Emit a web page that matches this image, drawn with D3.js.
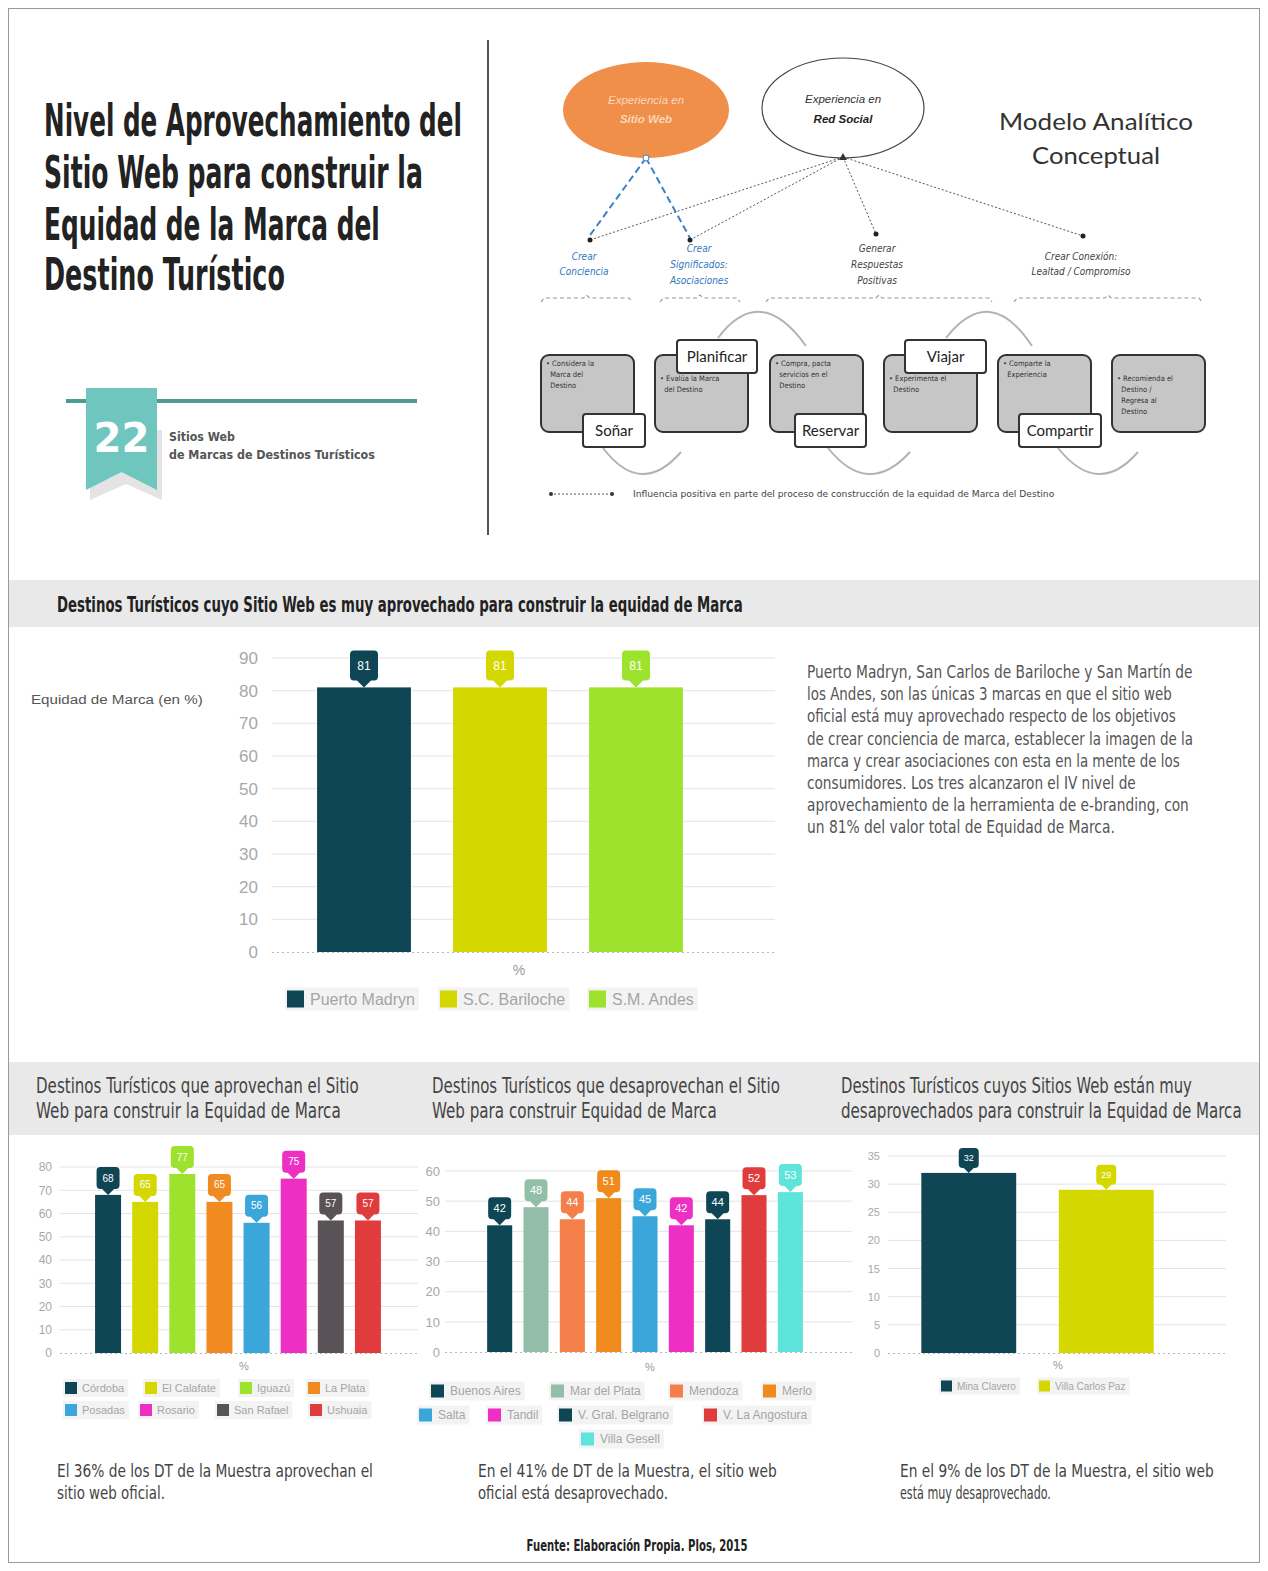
<!DOCTYPE html>
<html><head><meta charset="utf-8">
<script src="https://cdn.jsdelivr.net/npm/d3@7"></script>
<style>body{margin:0;background:#fff}svg{display:block}</style>
</head><body>
<script>
// ---------------- DATA ----------------
const mainCategories = ["Puerto Madryn", "S.C. Bariloche", "S.M. Andes"];
const mainValues = [81, 81, 81];
const mainTicks = [0, 10, 20, 30, 40, 50, 60, 70, 80, 90];

const aprovCategories = ["Córdoba", "El Calafate", "Iguazú", "La Plata", "Posadas", "Rosario", "San Rafael", "Ushuaia"];
const aprovValues = [68, 65, 77, 65, 56, 75, 57, 57];
const aprovTicks = [0, 10, 20, 30, 40, 50, 60, 70, 80];

const desaprovCategories = ["Buenos Aires", "Mar del Plata", "Mendoza", "Merlo", "Salta", "Tandil", "V. Gral. Belgrano", "V. La Angostura", "Villa Gesell"];
const desaprovValues = [42, 48, 44, 51, 45, 42, 44, 52, 53];
const desaprovTicks = [0, 10, 20, 30, 40, 50, 60];

const muyDesCategories = ["Mina Clavero", "Villa Carlos Paz"];
const muyDesValues = [32, 29];
const muyDesTicks = [0, 5, 10, 15, 20, 25, 30, 35];

// ---------------- STYLES ----------------
const DARK = "#0f4655", YEL = "#d4d800", LIME = "#9de22c";
const mainColors = [DARK, YEL, LIME];
const aprovColors = [DARK, YEL, LIME, "#f28a22", "#3aa6da", "#ee2fc3", "#595256", "#e03c3d"];
const desaprovColors = [DARK, "#93bfa9", "#f47f4a", "#f08a1c", "#3aa6da", "#ee2fc3", DARK, "#e03c3d", "#5ee4da"];
const muyDesColors = [DARK, YEL];

const NARROW = "'Liberation Sans Narrow','DejaVu Sans Condensed','Arial Narrow',sans-serif";
const SANS = "'Liberation Sans',Arial,sans-serif";
const LATO = "Lato,'Open Sans',sans-serif";

const W = 1268, H = 1571;
const svg = d3.select("body").append("svg").attr("width", W).attr("height", H);
svg.append("rect").attr("width", W).attr("height", H).attr("fill", "#fff");

// text helper: optional target width applied by horizontal scaling transform
function txt(x, y, s, o = {}) {
  const g = svg.append("g").attr("transform", `translate(${x},${y})`);
  const t = g.append("text").attr("x", 0).attr("y", 0).text(s)
    .attr("font-family", o.ff || SANS).attr("font-size", o.fs || 12)
    .attr("fill", o.fill || "#333").attr("text-anchor", o.anchor || "start");
  if (o.fw) t.attr("font-weight", o.fw);
  if (o.fst) t.attr("font-style", o.fst);
  if (o.w) {
    const nat = t.node().getComputedTextLength();
    if (nat > 0) g.attr("transform", `translate(${x},${y}) scale(${o.w / nat},1)`);
  }
  return t;
}

// outer frame
svg.append("rect").attr("x", 8.5).attr("y", 8.5).attr("width", 1251).attr("height", 1554)
  .attr("fill", "none").attr("stroke", "#9a9a9a").attr("stroke-width", 1);

// ---------------- TITLE ----------------
const titleLines = [["Nivel de Aprovechamiento del", 136, 418], ["Sitio Web para construir la", 188, 379],
  ["Equidad de la Marca del", 240, 336], ["Destino Turístico", 290, 241]];
titleLines.forEach(([s, y, w]) => txt(44, y, s, {ff: NARROW, fs: 45, fw: "bold", fill: "#222", w}));

// ribbon
svg.append("line").attr("x1", 66).attr("x2", 417).attr("y1", 401).attr("y2", 401).attr("stroke", "#4e9b8f").attr("stroke-width", 4);
svg.append("polygon").attr("points", "90,430 162,430 162,500 126,484 90,500").attr("fill", "#e4e4e4");
svg.append("polygon").attr("points", "86,388 157,388 157,490 121.5,472 86,490").attr("fill", "#6ec6bf");
txt(121.5, 452, "22", {fs: 40, fw: "bold", fill: "#fff", anchor: "middle", ff: "'DejaVu Sans',sans-serif", w: 56});
txt(169, 441, "Sitios Web", {ff: NARROW, fs: 13, fw: "bold", fill: "#555", w: 66});
txt(169, 459, "de Marcas de Destinos Turísticos", {ff: NARROW, fs: 13, fw: "bold", fill: "#555", w: 206});

// divider
svg.append("line").attr("x1", 488).attr("x2", 488).attr("y1", 40).attr("y2", 535).attr("stroke", "#555").attr("stroke-width", 2);

// ---------------- DIAGRAM ----------------
svg.append("ellipse").attr("cx", 646).attr("cy", 110).attr("rx", 83).attr("ry", 48).attr("fill", "#f08f49");
txt(646, 104, "Experiencia en", {fs: 11.5, fst: "italic", fill: "#fbd6bb", anchor: "middle"});
txt(646, 123, "Sitio Web", {fs: 11.5, fst: "italic", fw: "bold", fill: "#fbd6bb", anchor: "middle"});
svg.append("ellipse").attr("cx", 843).attr("cy", 108).attr("rx", 81).attr("ry", 50).attr("fill", "#fff").attr("stroke", "#444").attr("stroke-width", 1.2);
txt(843, 103, "Experiencia en", {fs: 11.5, fst: "italic", fill: "#333", anchor: "middle"});
txt(843, 123, "Red Social", {fs: 11.5, fst: "italic", fw: "bold", fill: "#222", anchor: "middle"});
txt(1096, 130, "Modelo Analítico", {ff: LATO, fs: 24, fill: "#333", anchor: "middle", w: 194});
txt(1096, 164, "Conceptual", {ff: LATO, fs: 24, fill: "#333", anchor: "middle", w: 128});

[[588, 238], [690, 238]].forEach(([x, y]) => svg.append("line").attr("x1", 646).attr("y1", 158).attr("x2", x).attr("y2", y)
  .attr("stroke", "#3b82c4").attr("stroke-width", 2).attr("stroke-dasharray", "7,4"));
svg.append("circle").attr("cx", 646).attr("cy", 158).attr("r", 3).attr("fill", "#fff").attr("stroke", "#3b82c4");
[[590, 240], [690, 240], [876, 234], [1083, 236]].forEach(([x, y]) => {
  svg.append("line").attr("x1", 843).attr("y1", 157).attr("x2", x).attr("y2", y)
    .attr("stroke", "#555").attr("stroke-width", 1).attr("stroke-dasharray", "2,2");
  svg.append("circle").attr("cx", x).attr("cy", y).attr("r", 2.5).attr("fill", "#222");
});
svg.append("polygon").attr("points", "843,153 839,160 847,160").attr("fill", "#333");
const dlab = [[584, [["Crear", 260], ["Conciencia", 275]], "#2f78bd"],
  [699, [["Crear", 252], ["Significados:", 268], ["Asociaciones", 284]], "#2f78bd"],
  [877, [["Generar", 252], ["Respuestas", 268], ["Positivas", 284]], "#444"],
  [1081, [["Crear Conexión:", 260], ["Lealtad / Compromiso", 275]], "#444"]];
dlab.forEach(([x, ls, c]) => ls.forEach(([s, y]) => txt(x, y, s, {fs: 10, fst: "italic", fill: c, anchor: "middle", ff: NARROW})));
[[541, 632], [660, 740], [766, 992], [1014, 1202]].forEach(([a, b]) => {
  const m = (a + b) / 2;
  svg.append("path").attr("d", `M${a},302 L${a + 3},298 L${m - 3},298 L${m},295 L${m + 3},298 L${b - 3},298 L${b},302`)
    .attr("fill", "none").attr("stroke", "#999").attr("stroke-width", 1.2).attr("stroke-dasharray", "4,3");
});

// arcs
["M603,448 Q641,498 681,452", "M718,338 Q760,282 806,346", "M828,448 Q868,498 910,452",
 "M946,338 Q990,282 1032,346", "M1058,448 Q1098,498 1138,452"].forEach(d =>
  svg.append("path").attr("d", d).attr("fill", "none").attr("stroke", "#b3b3b3").attr("stroke-width", 2));

const boxes = [[541, 366, ["• Considera la", "  Marca del", "  Destino"]], [655, 381, ["• Evalúa la Marca", "  del Destino"]],
  [770, 366, ["• Compra, pacta", "  servicios en el", "  Destino"]], [884, 381, ["• Experimenta el", "  Destino"]],
  [998, 366, ["• Comparte la", "  Experiencia"]], [1112, 381, ["• Recomienda el", "  Destino /", "  Regresa al", "  Destino"]]];
boxes.forEach(([x, y0, ls]) => {
  svg.append("rect").attr("x", x).attr("y", 355).attr("width", 93).attr("height", 77).attr("rx", 8)
    .attr("fill", "#c6c6c6").attr("stroke", "#333").attr("stroke-width", 2);
  ls.forEach((s, i) => txt(x + 5, y0 + i * 11, s, {fs: 7.5, fill: "#333", ff: NARROW}).attr("xml:space", "preserve"));
});
[["Soñar", 583, 414, 62], ["Planificar", 677, 340, 80], ["Reservar", 795, 414, 71], ["Viajar", 905, 340, 81], ["Compartir", 1019, 414, 82]]
  .forEach(([s, x, y, w]) => {
    svg.append("rect").attr("x", x).attr("y", y).attr("width", w).attr("height", 33).attr("rx", 3)
      .attr("fill", "#fff").attr("stroke", "#333").attr("stroke-width", 2);
    txt(x + w / 2, y + 22, s, {ff: LATO, fs: 15, fill: "#222", anchor: "middle"});
  });
svg.append("line").attr("x1", 550).attr("x2", 612).attr("y1", 494).attr("y2", 494).attr("stroke", "#555").attr("stroke-dasharray", "2,2");
svg.append("circle").attr("cx", 551).attr("cy", 494).attr("r", 2).attr("fill", "#333");
svg.append("circle").attr("cx", 612).attr("cy", 494).attr("r", 2).attr("fill", "#333");
txt(633, 497, "Influencia positiva en parte del proceso de construcción de la equidad de Marca del Destino", {fs: 8, fill: "#444", w: 422, ff: NARROW});

// ---------------- BANDS ----------------
svg.append("rect").attr("x", 9).attr("y", 580).attr("width", 1250).attr("height", 47).attr("fill", "#e9e9e9");
txt(57, 612, "Destinos Turísticos cuyo Sitio Web es muy aprovechado para construir la equidad de Marca", {ff: NARROW, fs: 21, fw: "bold", fill: "#222", w: 686});
svg.append("rect").attr("x", 9).attr("y", 1062).attr("width", 1250).attr("height", 73).attr("fill", "#e9e9e9");
[[36, "Destinos Turísticos que aprovechan el Sitio", 323, "Web para construir la Equidad de Marca", 305],
 [432, "Destinos Turísticos que desaprovechan el Sitio", 348, "Web para construir Equidad de Marca", 285],
 [841, "Destinos Turísticos cuyos Sitios Web están muy", 351, "desaprovechados para construir la Equidad de Marca", 401]]
  .forEach(([x, a, wa, b, wb]) => {
    txt(x, 1093, a, {ff: NARROW, fs: 21, fill: "#444", w: wa});
    txt(x, 1118, b, {ff: NARROW, fs: 21, fill: "#444", w: wb});
  });

// ---------------- BAR CHART HELPER ----------------
function callout(cx, tip, w, h, p) {
  const b = tip - p, t = b - h, l = cx - w / 2, r = cx + w / 2, k = 4;
  return `M${l + k},${t} L${r - k},${t} Q${r},${t} ${r},${t + k} L${r},${b - k} Q${r},${b} ${r - k},${b}
    L${cx + p},${b} L${cx},${tip} L${cx - p},${b} L${l + k},${b} Q${l},${b} ${l},${b - k} L${l},${t + k} Q${l},${t} ${l + k},${t} Z`;
}
function barChart(c) {
  const g = svg.append("g");
  const y = d3.scaleLinear().domain([0, d3.max(c.ticks)]).range([c.y0, c.y1]);
  const x = d3.scaleBand().domain(c.cats).range(c.xr).paddingInner(c.pad).paddingOuter(c.pad / 2);
  g.selectAll(".grid").data(c.ticks.filter(t => t > 0)).join("line")
    .attr("x1", c.gx[0]).attr("x2", c.gx[1]).attr("y1", d => y(d)).attr("y2", d => y(d))
    .attr("stroke", "#e4e4e4").attr("stroke-width", 1);
  g.append("line").attr("x1", c.gx[0]).attr("x2", c.gx[1]).attr("y1", y(0) + 0.5).attr("y2", y(0) + 0.5)
    .attr("stroke", "#b8b8b8").attr("stroke-dasharray", "2,3");
  const ax = g.append("g").attr("transform", `translate(${c.lx},0)`)
    .call(d3.axisLeft(y).tickValues(c.ticks).tickSize(0).tickPadding(0));
  ax.select(".domain").remove();
  ax.selectAll("text").attr("font-family", SANS).attr("font-size", c.tfs).attr("fill", "#a8a8a8");
  g.selectAll(".bar").data(c.vals).join("rect")
    .attr("x", (d, i) => x(c.cats[i])).attr("width", x.bandwidth())
    .attr("y", d => y(d)).attr("height", d => y(0) - y(d)).attr("fill", (d, i) => c.colors[i]);
  g.selectAll(".co").data(c.vals).join("path")
    .attr("d", (d, i) => callout(x(c.cats[i]) + x.bandwidth() / 2, y(d), c.cw, c.ch, c.cp))
    .attr("fill", (d, i) => c.colors[i]);
  g.selectAll(".cl").data(c.vals).join("text")
    .attr("x", (d, i) => x(c.cats[i]) + x.bandwidth() / 2).attr("y", d => y(d) - c.cp - c.ch / 2 + c.vfs * 0.36)
    .attr("text-anchor", "middle").attr("font-family", SANS).attr("font-size", c.vfs).attr("fill", "#fff")
    .text(d => d);
  txt(c.pct[0], c.pct[1], "%", {fs: c.pfs, fill: "#999", anchor: "middle"});
  c.cats.forEach((s, i) => {
    const [lx, ly] = c.leg[i];
    const t = txt(lx + c.ls + c.lg, ly + c.lfs * 0.36, s, {fs: c.lfs, fill: "#a5a5a5"});
    const tw = t.node().getComputedTextLength();
    g.append("rect").attr("x", lx - 2).attr("y", ly - c.ls / 2 - 3).attr("width", c.ls + c.lg + tw + 6).attr("height", c.ls + 6)
      .attr("fill", "#f3f3f3").lower();
    svg.append("rect").attr("x", lx).attr("y", ly - c.ls / 2).attr("width", c.ls).attr("height", c.ls).attr("fill", c.colors[i]);
  });
}

// main chart
barChart({cats: mainCategories, vals: mainValues, ticks: mainTicks, colors: mainColors,
  y0: 952, y1: 658, xr: [296, 704], pad: 0.31, gx: [272, 775], lx: 258, tfs: 17,
  cw: 28, ch: 30, cp: 7, vfs: 12, pct: [519, 975], pfs: 14,
  leg: [[287, 999], [440, 999], [589, 999]], ls: 17, lg: 6, lfs: 16});
txt(31, 704, "Equidad de Marca (en %)", {fs: 12, fill: "#555", w: 172});

const para = [["Puerto Madryn, San Carlos de Bariloche y San Martín de", 386], ["los Andes, son las únicas 3 marcas en que el sitio web", 365],
  ["oficial está muy aprovechado respecto de los objetivos", 369], ["de crear conciencia de marca, establecer la imagen de la", 386],
  ["marca y crear asociaciones con esta en la mente de los", 373], ["consumidores. Los tres alcanzaron el IV nivel de", 329],
  ["aprovechamiento de la herramienta de e-branding, con", 382], ["un 81% del valor total de Equidad de Marca.", 308]];
para.forEach(([s, w], i) => txt(807, 678 + i * 22.2, s, {ff: NARROW, fs: 17, fill: "#555", w}));

// chart 1
barChart({cats: aprovCategories, vals: aprovValues, ticks: aprovTicks, colors: aprovColors,
  y0: 1353, y1: 1167, xr: [89.5, 386.5], pad: 0.3, gx: [60, 418], lx: 52, tfs: 12,
  cw: 23, ch: 22, cp: 6, vfs: 10, pct: [244, 1370], pfs: 11,
  leg: [[65, 1388], [145, 1388], [240, 1388], [308, 1388], [65, 1410], [140, 1410], [217, 1410], [310, 1410]],
  ls: 12, lg: 5, lfs: 11});
// chart 2
barChart({cats: desaprovCategories, vals: desaprovValues, ticks: desaprovTicks, colors: desaprovColors,
  y0: 1352, y1: 1171, xr: [481.5, 808.5], pad: 0.31, gx: [445, 852], lx: 440, tfs: 13,
  cw: 23, ch: 22, cp: 6, vfs: 11, pct: [650, 1371], pfs: 11,
  leg: [[431, 1391], [551, 1391], [670, 1391], [763, 1391], [419, 1415], [488, 1415], [559, 1415], [704, 1415], [581, 1439]],
  ls: 13, lg: 6, lfs: 12});
// chart 3
barChart({cats: muyDesCategories, vals: muyDesValues, ticks: muyDesTicks, colors: muyDesColors,
  y0: 1353, y1: 1156, xr: [900, 1175], pad: 0.31, gx: [888, 1226], lx: 880, tfs: 11,
  cw: 20, ch: 20, cp: 5, vfs: 9, pct: [1058, 1369], pfs: 11,
  leg: [[941, 1386], [1039, 1386]], ls: 11, lg: 5, lfs: 10});

// bottom texts
[[57, "El 36% de los DT de la Muestra aprovechan el", 316, "sitio web oficial.", 108],
 [478, "En el 41% de DT de la Muestra, el sitio web", 299, "oficial está desaprovechado.", 190],
 [900, "En el 9% de los DT de la Muestra, el sitio web", 314, "está muy desaprovechado.", 151]]
  .forEach(([x, a, wa, b, wb]) => {
    txt(x, 1477, a, {ff: NARROW, fs: 18, fill: "#444", w: wa});
    txt(x, 1499, b, {ff: NARROW, fs: 18, fill: "#444", w: wb});
  });
txt(637, 1551, "Fuente: Elaboración Propia. Plos, 2015", {ff: NARROW, fs: 15, fw: "bold", fill: "#222", anchor: "middle", w: 221});
</script>
</body></html>
